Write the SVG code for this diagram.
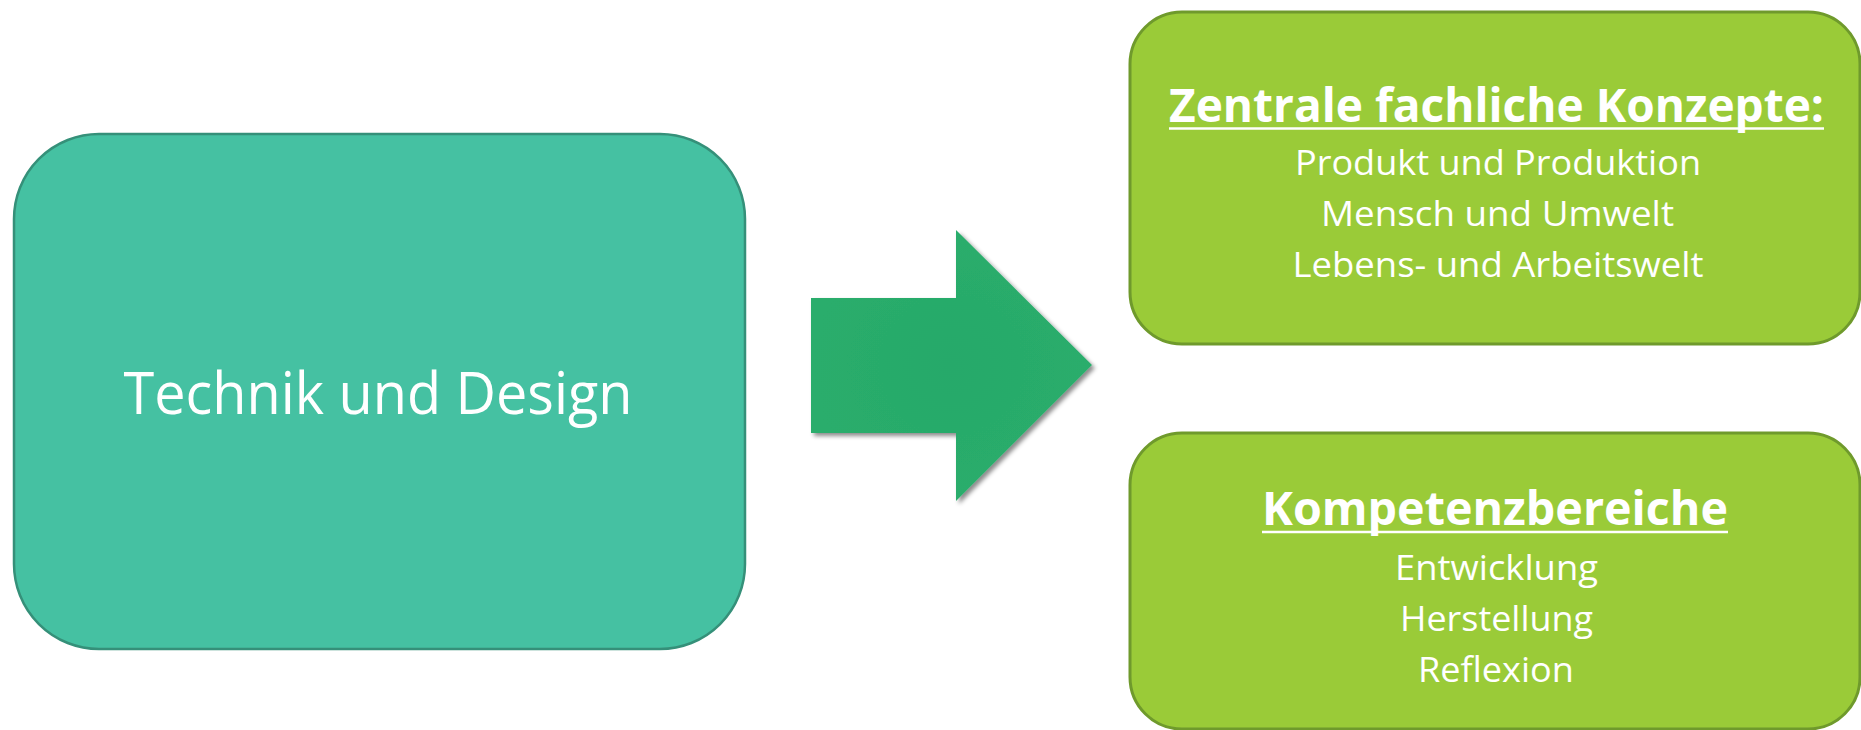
<svg xmlns="http://www.w3.org/2000/svg" width="1861" height="730" viewBox="0 0 1861 730">
  <defs>
    <filter id="shadow" x="-10%" y="-10%" width="130%" height="130%">
      <feDropShadow dx="3" dy="3" stdDeviation="2" flood-color="#000" flood-opacity="0.45"/>
    </filter>
    <radialGradient id="arrowFill" cx="0.5" cy="0.5" r="0.5">
      <stop offset="0" stop-color="#26A96A"/>
      <stop offset="1" stop-color="#2AAD6C"/>
    </radialGradient>
  </defs>
  <style>
    .teal { fill: #45C1A2; stroke: #359079; stroke-width: 2.5; }
    .lime { fill: #9ACB38; stroke: #6F9A2C; stroke-width: 3; }
    .txt { font-family: "Open Sans", "Noto Sans", "Liberation Sans", sans-serif; fill: #FFFFFF; text-anchor: middle; }
    .big { font-size: 58px; }
    .title { font-size: 47px; font-weight: bold; }
    .line { font-size: 35px; }
    .ul { stroke: #FFFFFF; stroke-width: 2.6; }
  </style>
  <rect width="1861" height="730" fill="#FFFFFF"/>

  <g id="node-technik">
    <rect class="teal" x="14" y="134" width="731" height="515" rx="85" ry="85"/>
    <text class="txt big" x="378" y="414" textLength="509" lengthAdjust="spacingAndGlyphs">Technik und Design</text>
  </g>

  <g id="connectors">
    <polygon points="811,298 956,298 956,230 1092,365 956,501 956,433 811,433" fill="url(#arrowFill)" filter="url(#shadow)"/>
  </g>

  <g id="node-konzepte">
    <rect class="lime" x="1130" y="12" width="730" height="332" rx="52" ry="52"/>
    <text class="txt title" x="1496.5" y="122" textLength="655" lengthAdjust="spacingAndGlyphs">Zentrale fachliche Konzepte:</text>
    <line class="ul" x1="1169" y1="128.5" x2="1824" y2="128.5"/>
    <text class="txt line" x="1498" y="175" textLength="406" lengthAdjust="spacingAndGlyphs">Produkt und Produktion</text>
    <text class="txt line" x="1497.5" y="226" textLength="353" lengthAdjust="spacingAndGlyphs">Mensch und Umwelt</text>
    <text class="txt line" x="1498" y="277" textLength="411" lengthAdjust="spacingAndGlyphs">Lebens- und Arbeitswelt</text>
  </g>

  <g id="node-kompetenz">
    <rect class="lime" x="1130" y="433" width="730" height="296" rx="52" ry="52"/>
    <text class="txt title" x="1495" y="525" textLength="466" lengthAdjust="spacingAndGlyphs">Kompetenzbereiche</text>
    <line class="ul" x1="1262" y1="532" x2="1728" y2="532"/>
    <text class="txt line" x="1496.5" y="580" textLength="203" lengthAdjust="spacingAndGlyphs">Entwicklung</text>
    <text class="txt line" x="1496.5" y="631" textLength="193" lengthAdjust="spacingAndGlyphs">Herstellung</text>
    <text class="txt line" x="1496" y="682" textLength="156" lengthAdjust="spacingAndGlyphs">Reflexion</text>
  </g>
</svg>
